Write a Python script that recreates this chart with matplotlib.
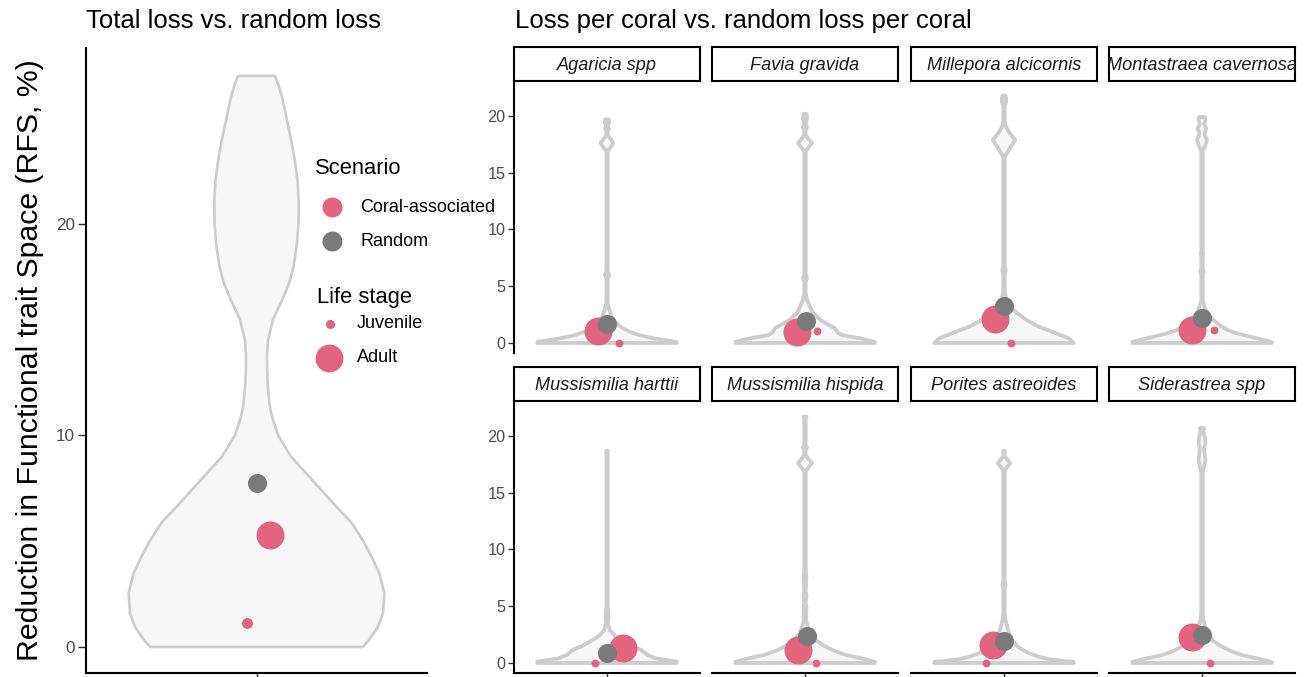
import matplotlib
matplotlib.use("Agg")
import matplotlib.pyplot as plt
from matplotlib.lines import Line2D
import numpy as np

plt.rcParams['font.family'] = ['Liberation Sans', 'DejaVu Sans']

# ---------------- data ----------------
species = ["Agaricia spp", "Favia gravida", "Millepora alcicornis", "Montastraea cavernosa",
           "Mussismilia harttii", "Mussismilia hispida", "Porites astreoides", "Siderastrea spp"]

# total loss (left panel)
total_random = 7.75
total_coral_adult = 5.3
total_coral_juvenile = 1.13

# per coral loss (facets)
coral_adult = [1.1, 0.97, 2.1, 1.15, 1.3, 1.15, 1.6, 2.3]
coral_juvenile = [0.0, 1.1, 0.0, 1.15, 0.03, 0.0, 0.0, 0.0]
random_loss = [1.65, 1.95, 3.25, 2.2, 0.85, 2.4, 1.95, 2.45]

# horizontal jitter of the points (x units, category centre = 1)
total_jitter = {"random": 0.0, "adult": 0.046, "juvenile": -0.032}
adult_jitter = [-0.058, -0.052, -0.058, -0.065, 0.10, -0.045, -0.07, -0.065]
juvenile_jitter = [0.077, 0.077, 0.045, 0.077, -0.077, 0.07, -0.115, 0.05]
random_jitter = [0.0, 0.006, 0.0, 0.0, 0.0, 0.013, 0.0, 0.0]

# violin outlines: value grid and relative half-width (max = 1)
total_violin_y = [0, 0.33, 0.95, 1.6, 2.55, 3.5, 4.27, 5.06, 5.9, 6.6, 7.4, 8.2, 9.0, 10.0,
                  10.8, 11.35, 12.2, 13.0, 13.8, 14.5, 15.5, 16.4, 17.2, 18.0, 19.0, 20.0,
                  21.0, 22.0, 23.0, 24.0, 25.0, 26.0, 26.6, 27.0]
total_violin_w = [0.83, 0.88, 0.95, 0.99, 1.0, 0.96, 0.9, 0.83, 0.74, 0.63, 0.51, 0.39, 0.27, 0.17,
                  0.125, 0.105, 0.09, 0.083, 0.082, 0.09, 0.13, 0.2, 0.255, 0.29, 0.315, 0.328,
                  0.33, 0.322, 0.3, 0.27, 0.235, 0.2, 0.17, 0.145]

agaricia_y = [0, 0.1, 0.38, 0.68, 0.97, 1.26, 1.7, 2.3, 2.9, 3.5, 5.7, 6.0, 6.3, 16.9, 17.3, 17.6,
              17.9, 18.3, 18.7, 18.9, 19.1, 19.4, 19.7]
agaricia_w = [1.0, 1.0, 0.7, 0.47, 0.33, 0.24, 0.14, 0.07, 0.035, 0.01, 0.01, 0.03, 0.01, 0.01, 0.06, 0.09,
              0.06, 0.01, 0.01, 0.03, 0.01, 0.03, 0.025]
favia_y = [0, 0.09, 0.38, 0.68, 0.88, 1.12, 1.35, 1.56, 2.0, 2.6, 3.2, 3.8, 4.4, 5.4, 5.7, 6.0,
           16.9, 17.3, 17.6, 17.9, 18.3, 18.8, 19.0, 19.3, 19.8, 20.2]
favia_w = [1.0, 1.0, 0.82, 0.54, 0.47, 0.45, 0.42, 0.35, 0.23, 0.12, 0.07, 0.03, 0.01, 0.01, 0.03, 0.01,
           0.01, 0.06, 0.1, 0.06, 0.01, 0.01, 0.03, 0.01, 0.03, 0.02]
millepora_y = [0, 0.4, 0.85, 1.44, 2.0, 2.6, 3.2, 3.8, 4.4, 6.1, 6.4, 6.7, 16.4, 17.0, 17.9, 18.6,
               19.1, 19.6, 20.9, 21.2, 21.6, 21.8]
millepora_w = [1.0, 0.93, 0.75, 0.5, 0.33, 0.19, 0.09, 0.04, 0.012, 0.01, 0.025, 0.01, 0.01, 0.07, 0.16,
               0.07, 0.025, 0.01, 0.01, 0.03, 0.03, 0.02]
montastraea_y = [0, 0.1, 0.4, 0.8, 1.1, 1.5, 2.0, 2.6, 3.2, 3.8, 6.0, 6.3, 6.6, 7.7, 7.9, 8.1,
                 16.9, 17.3, 17.9, 18.4, 18.9, 19.3, 19.6, 19.9]
montastraea_w = [1.0, 1.0, 0.8, 0.53, 0.38, 0.27, 0.17, 0.08, 0.035, 0.01, 0.01, 0.025, 0.01, 0.01, 0.02, 0.01,
                 0.01, 0.04, 0.07, 0.035, 0.06, 0.03, 0.05, 0.04]
harttii_y = [0, 0.12, 0.41, 0.7, 1.15, 1.44, 1.9, 2.35, 2.9, 3.5, 4.1, 4.9, 18.7]
harttii_w = [1.0, 1.0, 0.7, 0.58, 0.49, 0.38, 0.24, 0.12, 0.04, 0.015, 0.02, 0.01, 0.01]
hispida_y = [0, 0.1, 0.4, 0.7, 1.12, 1.56, 2.0, 2.6, 3.2, 3.8, 5.0, 5.3, 6.0, 6.3, 7.7, 8.1,
             16.9, 17.3, 17.6, 17.9, 18.3, 18.8, 19.0, 19.2, 21.4, 21.7]
hispida_w = [1.0, 1.0, 0.82, 0.59, 0.4, 0.26, 0.16, 0.08, 0.04, 0.015, 0.02, 0.01, 0.02, 0.01, 0.02, 0.01,
             0.01, 0.06, 0.1, 0.06, 0.01, 0.01, 0.03, 0.01, 0.01, 0.02]
porites_y = [0, 0.1, 0.3, 0.55, 0.85, 1.15, 1.44, 2.0, 2.6, 3.2, 3.8, 4.4, 6.6, 6.9, 7.2,
             17.0, 17.3, 17.6, 17.9, 18.2, 18.7]
porites_w = [1.0, 1.0, 0.68, 0.5, 0.36, 0.27, 0.2, 0.12, 0.074, 0.046, 0.02, 0.01, 0.01, 0.025, 0.01,
             0.01, 0.05, 0.09, 0.05, 0.01, 0.01]
siderastrea_y = [0, 0.1, 0.4, 0.7, 1.1, 1.56, 2.0, 2.6, 3.2, 3.8, 4.4, 16.8, 17.3, 17.9, 18.5,
                 18.9, 19.4, 19.9, 20.3, 20.7]
siderastrea_w = [1.0, 1.0, 0.8, 0.57, 0.4, 0.25, 0.15, 0.08, 0.05, 0.02, 0.01, 0.01, 0.03, 0.05, 0.035,
                 0.03, 0.05, 0.04, 0.02, 0.03]

violin_y = [agaricia_y, favia_y, millepora_y, montastraea_y, harttii_y, hispida_y, porites_y, siderastrea_y]
violin_w = [agaricia_w, favia_w, millepora_w, montastraea_w, harttii_w, hispida_w, porites_w, siderastrea_w]

# ---------------- style ----------------
PINK = '#E2647F'
GREY = '#7A7A7A'
VFILL = '#F7F7F7'
VEDGE = '#CCCCCC'
TICKLAB = '#4D4D4D'

W, H = 1306, 677
fig = plt.figure(figsize=(W / 100, H / 100), dpi=100)


def fx(px):
    return px / W


def fy(py):
    return 1 - py / H


def add_ax(x0, y0, x1, y1):
    return fig.add_axes([fx(x0), fy(y1), (x1 - x0) / W, (y1 - y0) / H])


def draw_violin(ax, ys, ws, lw):
    ys = np.asarray(ys, float)
    ws = np.asarray(ws, float) * 0.45
    xs = np.concatenate([1 - ws, (1 + ws)[::-1]])
    yy = np.concatenate([ys, ys[::-1]])
    ax.fill(xs, yy, facecolor=VFILL, edgecolor=VEDGE, lw=lw, joinstyle='round', zorder=1)


def style_axes(ax, left=True, bottom=True, tsize=12):
    for s in ['top', 'right']:
        ax.spines[s].set_visible(False)
    ax.spines['left'].set_visible(left)
    ax.spines['bottom'].set_visible(bottom)
    for s in ['left', 'bottom']:
        ax.spines[s].set_linewidth(1.5)
        ax.spines[s].set_color('black')
    ax.set_xlim(0.4, 1.6)
    ax.set_xticks([1] if bottom else [])
    ax.set_xticklabels([''] if bottom else [])
    ax.tick_params(axis='both', length=4, width=1.0, color='#333333',
                   labelsize=tsize, labelcolor=TICKLAB, pad=2)
    if not left:
        ax.set_yticks([])
    ax.patch.set_visible(False)


# ---------------- left panel ----------------
axL = add_ax(86, 48, 427, 673)
draw_violin(axL, total_violin_y, total_violin_w, lw=1.9)
axL.scatter([1 + total_jitter["adult"]], [total_coral_adult], s=406, color=PINK, lw=0, zorder=2)
axL.scatter([1 + total_jitter["juvenile"]], [total_coral_juvenile], s=63, color=PINK, lw=0, zorder=2)
axL.scatter([1 + total_jitter["random"]], [total_random], s=188, color=GREY, lw=0, zorder=3)
axL.set_ylim(-1.23, 28.32)
axL.set_yticks([0, 10, 20])
style_axes(axL, tsize=12.3)
axL.tick_params(axis='y', length=6)

fig.text(fx(86), fy(21), "Total loss vs. random loss", fontsize=18.5, va='center', ha='left')
fig.text(fx(515), fy(21), "Loss per coral vs. random loss per coral", fontsize=18.5, va='center', ha='left')
fig.text(fx(30), fy(360), "Reduction in Functional trait Space (RFS, %)", fontsize=21.8,
         rotation=90, va='center', ha='center')

# ---------------- facets ----------------
col_x = [514, 712, 911, 1109]
row_strip = [(47, 81), (367, 401)]
row_panel = [(81, 353), (401, 673)]
FW = 186

for i, sp in enumerate(species):
    r, c = divmod(i, 4)
    x0 = col_x[c]
    sy0, sy1 = row_strip[r]
    py0, py1 = row_panel[r]
    ax = add_ax(x0, py0, x0 + FW, py1)
    draw_violin(ax, violin_y[i], violin_w[i], lw=2.7)
    ax.scatter([1 + adult_jitter[i]], [coral_adult[i]], s=406, color=PINK, lw=0, zorder=2)
    ax.scatter([1 + juvenile_jitter[i]], [coral_juvenile[i]], s=32, color=PINK, lw=0, zorder=2)
    ax.scatter([1 + random_jitter[i]], [random_loss[i]], s=188, color=GREY, lw=0, zorder=3)
    ax.set_ylim(-0.88, 23.08)
    if c == 0:
        ax.set_yticks([0, 5, 10, 15, 20])
    style_axes(ax, left=(c == 0), bottom=(r == 1), tsize=11.7)

    sax = add_ax(x0, sy0, x0 + FW, sy1)
    sax.set_xticks([])
    sax.set_yticks([])
    for s in sax.spines.values():
        s.set_linewidth(1.5)
        s.set_color('black')
    t = sax.text(0.5, 0.47, sp, transform=sax.transAxes, ha='center', va='center',
                 fontsize=13.1, style='italic', color='#1A1A1A')
    t.set_clip_on(True)

# ---------------- legend ----------------
def leg_marker(x, y, size, color):
    fig.add_artist(Line2D([fx(x)], [fy(y)], marker='o', markersize=size, color=color,
                          markeredgewidth=0, linestyle='none', transform=fig.transFigure))


fig.text(fx(315), fy(168), "Scenario", fontsize=15.8, va='center', ha='left')
leg_marker(332, 207, 14.4, PINK)
fig.text(fx(360), fy(207), "Coral-associated", fontsize=13, va='center', ha='left')
leg_marker(332, 241, 14.4, GREY)
fig.text(fx(360), fy(241), "Random", fontsize=13, va='center', ha='left')

fig.text(fx(317), fy(297), "Life stage", fontsize=15.8, va='center', ha='left')
leg_marker(330, 324, 6.5, PINK)
fig.text(fx(357), fy(324), "Juvenile", fontsize=13, va='center', ha='left')
leg_marker(329, 358, 20, PINK)
fig.text(fx(357), fy(358), "Adult", fontsize=13, va='center', ha='left')

fig.savefig("out.png", dpi=100)
